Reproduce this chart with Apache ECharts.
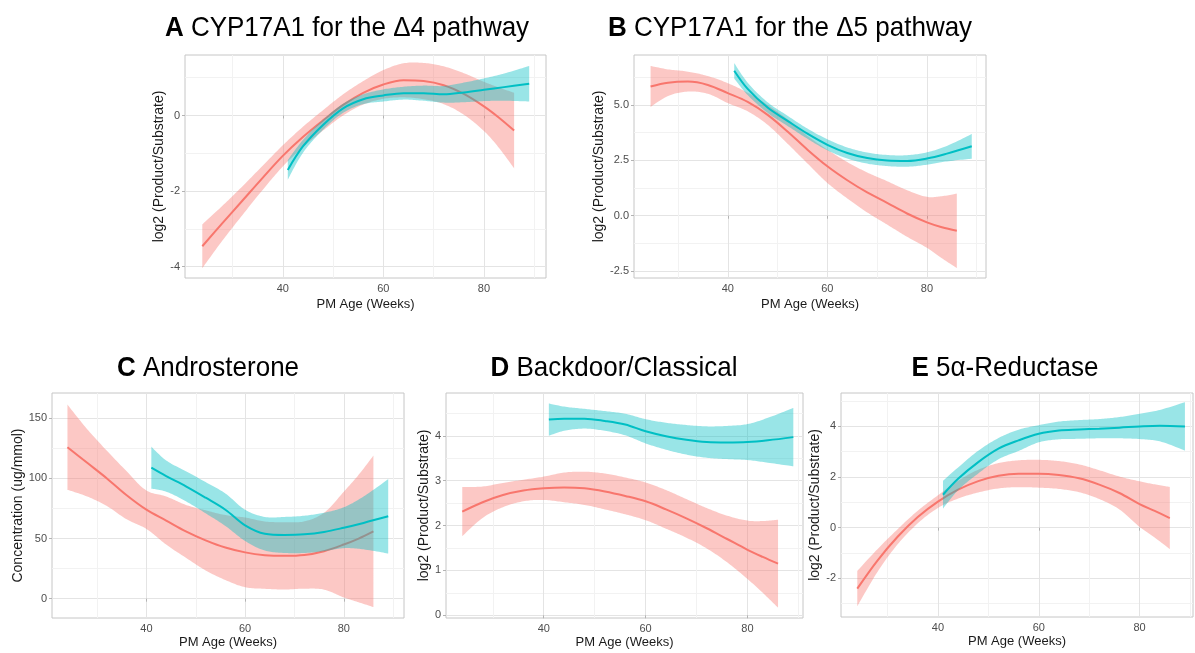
<!DOCTYPE html>
<html><head><meta charset="utf-8">
<script src="https://cdn.jsdelivr.net/npm/echarts@6/dist/echarts.min.js"></script>
<style>html,body{margin:0;padding:0;background:#fff}#c{width:1195px;height:653px}</style>
</head><body><div id="c"></div>
<script>
// ---------- DATA ----------
// Panel A: CYP17A1 for the Δ4 pathway
const A_redX  = [24,28,32,36,40,44,48,52,56,60,64,68,72,76,80,83,86];
const A_redY  = [-3.46,-2.85,-2.25,-1.65,-1.07,-0.57,-0.13,0.28,0.6,0.82,0.93,0.91,0.8,0.57,0.24,-0.06,-0.40];
const A_redLo = [-4.04,-3.31,-2.63,-1.97,-1.35,-0.84,-0.40,0.0,0.29,0.44,0.48,0.43,0.30,0.02,-0.41,-0.86,-1.40];
const A_redHi = [-2.88,-2.39,-1.87,-1.33,-0.79,-0.30,0.14,0.56,0.91,1.20,1.38,1.39,1.30,1.12,0.89,0.74,0.60];
const A_tealX  = [41,44,48,52,56,60,64,68,72,76,80,84,89];
const A_tealY  = [-1.44,-0.82,-0.25,0.19,0.43,0.53,0.59,0.59,0.56,0.61,0.68,0.75,0.84];
const A_tealLo = [-1.70,-0.99,-0.38,0.07,0.30,0.37,0.42,0.39,0.34,0.35,0.38,0.39,0.37];
const A_tealHi = [-1.18,-0.65,-0.12,0.31,0.56,0.69,0.76,0.79,0.78,0.87,0.98,1.11,1.31];
const A_yTicks = [-4,-2,0];
const A_yMinor = [-3,-1,1];

// Panel B: CYP17A1 for the Δ5 pathway
const B_redX  = [24.5,28,32,36,40,44,48,52,56,60,64,68,72,76,80,83,86];
const B_redY  = [5.83,6.0,6.05,5.9,5.53,5.13,4.55,3.8,2.98,2.23,1.6,1.05,0.58,0.1,-0.3,-0.52,-0.68];
const B_redLo = [4.90,5.40,5.60,5.50,5.08,4.71,4.10,3.25,2.36,1.48,0.78,0.15,-0.40,-0.95,-1.45,-1.92,-2.36];
const B_redHi = [6.76,6.60,6.50,6.30,5.98,5.55,5.00,4.35,3.60,2.98,2.42,1.95,1.56,1.15,0.85,0.88,1.00];
const B_tealX  = [41.3,44,48,52,56,60,64,68,72,76,80,84,89];
const B_tealY  = [6.54,5.72,4.88,4.28,3.70,3.20,2.83,2.60,2.49,2.47,2.58,2.80,3.13];
const B_tealLo = [6.19,5.44,4.64,4.05,3.47,2.95,2.58,2.35,2.24,2.21,2.30,2.45,2.57];
const B_tealHi = [6.89,6.00,5.12,4.51,3.93,3.45,3.08,2.85,2.74,2.73,2.86,3.15,3.69];
const B_yTicks = [-2.5,0,2.5,5];
const B_yMinor = [-1.25,1.25,3.75,6.25];

// Panel C: Androsterone
const C_redX  = [24,28,32,36,40,44,48,52,56,60,64,68,72,76,80,83,86];
const C_redY  = [126,113,100,86,74,65,56,48.5,42.5,38.5,36.2,35.6,36.3,39.5,45,50,56];
const C_redLo = [90.5,85,77,66,58,45,34,23.5,15.5,9.5,8.2,7.6,8.3,7.5,1,-3,-7];
const C_redHi = [161.5,141,123,106,90,85,78,73.5,69.5,67.5,64.2,63.6,64.3,71.5,89,103,119];
const C_tealX  = [41,44,48,52,56,60,64,68,72,76,80,84,89];
const C_tealY  = [109,102,93.5,84,74,61,54,53,53.5,55.5,59,63,68.5];
const C_tealLo = [91.5,89,81,71,60.5,48,40,38,38,39.5,42,41,37.5];
const C_tealHi = [126.5,115,106,97,87.5,74,68,68,69,71.5,76,85,99.5];
const C_yTicks = [0,50,100,150];
const C_yMinor = [25,75,125];

// Panel D: Backdoor/Classical
const D_redX  = [24,28,32,36,40,44,48,52,56,60,64,68,72,76,80,83,86];
const D_redY  = [2.31,2.52,2.68,2.78,2.83,2.85,2.83,2.76,2.66,2.54,2.36,2.16,1.94,1.70,1.46,1.30,1.15];
const D_redLo = [1.76,2.17,2.41,2.54,2.57,2.52,2.46,2.36,2.25,2.12,1.93,1.73,1.49,1.18,0.81,0.50,0.17];
const D_redHi = [2.86,2.87,2.95,3.02,3.09,3.18,3.20,3.16,3.07,2.96,2.79,2.59,2.39,2.22,2.11,2.10,2.13];
const D_tealX  = [41,44,48,52,56,60,64,68,72,76,80,84,89];
const D_tealY  = [4.36,4.38,4.38,4.33,4.25,4.10,3.99,3.91,3.86,3.85,3.86,3.90,3.97];
const D_tealLo = [4.00,4.11,4.16,4.11,4.01,3.83,3.69,3.58,3.51,3.48,3.46,3.40,3.32];
const D_tealHi = [4.72,4.65,4.60,4.55,4.49,4.37,4.29,4.24,4.21,4.22,4.26,4.40,4.62];
const D_yTicks = [0,1,2,3,4];
const D_yMinor = [0.5,1.5,2.5,3.5,4.5];

// Panel E: 5α-Reductase
const E_redX  = [24,28,32,36,40,44,48,52,56,60,64,68,72,76,80,83,86];
const E_redY  = [-2.41,-1.30,-0.36,0.42,1.03,1.50,1.84,2.05,2.13,2.13,2.08,1.95,1.70,1.37,0.93,0.66,0.38];
const E_redLo = [-3.11,-1.75,-0.66,0.17,0.78,1.15,1.39,1.55,1.60,1.58,1.53,1.40,1.13,0.72,0.03,-0.39,-0.85];
const E_redHi = [-1.71,-0.85,-0.06,0.67,1.28,1.85,2.29,2.55,2.66,2.68,2.63,2.50,2.27,2.02,1.83,1.71,1.61];
const E_tealX  = [41,44,48,52,56,60,64,68,72,76,80,84,89];
const E_tealY  = [1.30,1.93,2.59,3.12,3.45,3.71,3.84,3.88,3.91,3.95,4.00,4.03,4.00];
const E_tealLo = [0.75,1.48,2.14,2.70,3.03,3.37,3.49,3.51,3.53,3.53,3.50,3.41,3.04];
const E_tealHi = [1.85,2.38,3.04,3.54,3.87,4.05,4.19,4.25,4.29,4.37,4.50,4.65,4.96];
const E_yTicks = [-2,0,2,4];
const E_yMinor = [-3,-1,1,3,5];

const xTicks = [40,60,80];
const xMinor = [30,50,70,90];
const xName = 'PM Age (Weeks)';
const yNameLog = 'log2 (Product/Substrate)';
const yNameConc = 'Concentration (ug/mmol)';

// ---------- LAYOUT ----------
const FONT = '"Liberation Sans", Arial, sans-serif';
const RED = '#F8766D', TEAL = '#00BFC4';
const RED_FILL = 'rgba(248,118,109,0.4)', TEAL_FILL = 'rgba(0,191,196,0.4)';
const panels = [
  {letter:'A', title:'CYP17A1 for the Δ4 pathway', tx:347, ty:28,
   grid:{left:185, top:55, width:361, height:223}, xr:[20.56,92.34], yr:[-4.30,1.60],
   yTicks:A_yTicks, yMinor:A_yMinor, yName:yNameLog, xGap:20, yGap:16, dec:0,
   red:[A_redX,A_redY,A_redLo,A_redHi], teal:[A_tealX,A_tealY,A_tealLo,A_tealHi]},
  {letter:'B', title:'CYP17A1 for the Δ5 pathway', tx:790, ty:28,
   grid:{left:634, top:55, width:352, height:223}, xr:[21.17,91.86], yr:[-2.81,7.25],
   yTicks:B_yTicks, yMinor:B_yMinor, yName:yNameLog, xGap:20, yGap:25, dec:1,
   red:[B_redX,B_redY,B_redLo,B_redHi], teal:[B_tealX,B_tealY,B_tealLo,B_tealHi]},
  {letter:'C', title:'Androsterone', tx:208, ty:368,
   grid:{left:52, top:393, width:352, height:225}, xr:[20.87,92.2], yr:[-16.1,171.1],
   yTicks:C_yTicks, yMinor:C_yMinor, yName:yNameConc, xGap:18, yGap:26, dec:0,
   red:[C_redX,C_redY,C_redLo,C_redHi], teal:[C_tealX,C_tealY,C_tealLo,C_tealHi]},
  {letter:'D', title:'Backdoor/Classical', tx:614, ty:368,
   grid:{left:446, top:393, width:357, height:225}, xr:[20.81,90.9], yr:[-0.06,4.953],
   yTicks:D_yTicks, yMinor:D_yMinor, yName:yNameLog, xGap:18, yGap:14, dec:0,
   red:[D_redX,D_redY,D_redLo,D_redHi], teal:[D_tealX,D_tealY,D_tealLo,D_tealHi]},
  {letter:'E', title:'5α-Reductase', tx:1005, ty:368,
   grid:{left:841, top:393, width:352, height:224}, xr:[20.77,90.6], yr:[-3.53,5.32],
   yTicks:E_yTicks, yMinor:E_yMinor, yName:yNameLog, xGap:18, yGap:19, dec:0,
   red:[E_redX,E_redY,E_redLo,E_redHi], teal:[E_tealX,E_tealY,E_tealLo,E_tealHi]}
];

const grids = [], xAxes = [], yAxes = [], series = [], graphics = [];
const SMOOTH = 0.35;

// sample a smooth curve through pixel points (same style of smoothing as ECharts line)
function smoothPts(pts, smooth) {
  const out = [pts[0].slice()];
  const n = pts.length;
  let cp0 = pts[0].slice();
  for (let i = 1; i < n; i++) {
    const p = pts[i], prev = pts[i-1];
    let cp1, nextCp0;
    if (i === n - 1) { cp1 = p.slice(); nextCp0 = p.slice(); }
    else {
      const next = pts[i+1];
      const vx = next[0] - prev[0], vy = next[1] - prev[1];
      const l0 = Math.hypot(p[0]-prev[0], p[1]-prev[1]);
      const l1 = Math.hypot(next[0]-p[0], next[1]-p[1]);
      const r = l1 / (l0 + l1);
      cp1 = [p[0] - vx*smooth*(1-r), p[1] - vy*smooth*(1-r)];
      nextCp0 = [p[0] + vx*smooth*r, p[1] + vy*smooth*r];
    }
    const STEPS = 14;
    for (let s = 1; s <= STEPS; s++) {
      const t = s / STEPS, u = 1 - t;
      const a = u*u*u, b = 3*u*u*t, c = 3*u*t*t, d = t*t*t;
      out.push([a*prev[0]+b*cp0[0]+c*cp1[0]+d*p[0], a*prev[1]+b*cp0[1]+c*cp1[1]+d*p[1]]);
    }
    cp0 = nextCp0;
  }
  return out;
}

function addGroup(gi, arrs, color, fill, zBase) {
  const [xs, ys, lo, hi] = arrs;
  const ax = {xAxisIndex: 2*gi, yAxisIndex: 2*gi};
  series.push(Object.assign({
    type:'custom', data: xs.map((x,i)=>[x, lo[i], hi[i]]), encode:{x:0, y:[1,2]},
    silent:true, z:zBase, clip:false,
    renderItem: function (params, api) {
      if (params.dataIndexInside !== 0) return null;
      const up = [], dn = [];
      for (let i = 0; i < xs.length; i++) {
        up.push(api.coord([xs[i], hi[i]]));
        dn.push(api.coord([xs[i], lo[i]]));
      }
      const poly = smoothPts(up, SMOOTH).concat(smoothPts(dn.reverse(), SMOOTH));
      return {type:'polygon', shape:{points: poly}, style:{fill: fill, stroke:null}};
    }
  }, ax));
  series.push(Object.assign({
    type:'line', data: xs.map((x,i)=>[x, ys[i]]), symbol:'none', smooth:SMOOTH,
    lineStyle:{color:color, width:2}, silent:true, z:zBase + 1
  }, ax));
}

panels.forEach((p, gi) => {
  grids.push(Object.assign({show:true, borderColor:'#c6c6c6', borderWidth:1, backgroundColor:'#fff'}, p.grid));
  xAxes.push({
    gridIndex: gi, type:'value', min:p.xr[0], max:p.xr[1], position:'bottom',
    name: xName, nameLocation:'middle', nameGap:p.xGap,
    nameTextStyle:{fontSize:13, color:'#1a1a1a', fontFamily:FONT},
    axisLine:{show:false},
    axisTick:{show:true, length:3, lineStyle:{color:'#b3b3b3'}, customValues:xTicks},
    axisLabel:{customValues:xTicks, color:'#4d4d4d', fontSize:11, margin:5, fontFamily:FONT},
    splitLine:{show:true, lineStyle:{color:'#e4e4e4', width:1}}
  });
  xAxes.push({
    gridIndex: gi, type:'value', min:p.xr[0], max:p.xr[1], position:'top',
    axisLine:{show:false},
    axisTick:{show:false, customValues:xMinor},
    axisLabel:{show:false, customValues:xMinor},
    splitLine:{show:true, lineStyle:{color:'#f2f2f2', width:1}}
  });
  yAxes.push({
    gridIndex: gi, type:'value', min:p.yr[0], max:p.yr[1], position:'left',
    name: p.yName, nameLocation:'middle', nameGap:p.yGap,
    nameTextStyle:{fontSize:14, color:'#1a1a1a', fontFamily:FONT},
    axisLine:{show:false},
    axisTick:{show:true, length:3, lineStyle:{color:'#b3b3b3'}, customValues:p.yTicks},
    axisLabel:{customValues:p.yTicks, color:'#4d4d4d', fontSize:11, margin:5, fontFamily:FONT,
      formatter: v => Number(v).toFixed(p.dec)},
    splitLine:{show:true, lineStyle:{color:'#e4e4e4', width:1}}
  });
  yAxes.push({
    gridIndex: gi, type:'value', min:p.yr[0], max:p.yr[1], position:'right',
    axisLine:{show:false},
    axisTick:{show:false, customValues:p.yMinor},
    axisLabel:{show:false, customValues:p.yMinor},
    splitLine:{show:true, lineStyle:{color:'#f2f2f2', width:1}}
  });
  addGroup(gi, p.red, RED, RED_FILL, 3);
  addGroup(gi, p.teal, TEAL, TEAL_FILL, 5);
  graphics.push({
    type:'text', x:p.tx, y:p.ty, z:100, scaleY:1.07,
    style:{
      text:'{b|' + p.letter + '} ' + p.title,
      rich:{b:{fontWeight:'bold', fontSize:26, fontFamily:FONT, fill:'#000'}},
      fontSize:26, fontFamily:FONT, fill:'#000', align:'center', verticalAlign:'middle'
    }
  });
});

const chart = echarts.init(document.getElementById('c'), null, {renderer:'canvas'});
chart.setOption({
  animation:false,
  backgroundColor:'#fff',
  textStyle:{fontFamily:FONT},
  grid: grids, xAxis: xAxes, yAxis: yAxes, series: series, graphic: graphics
});
</script>
</body></html>
